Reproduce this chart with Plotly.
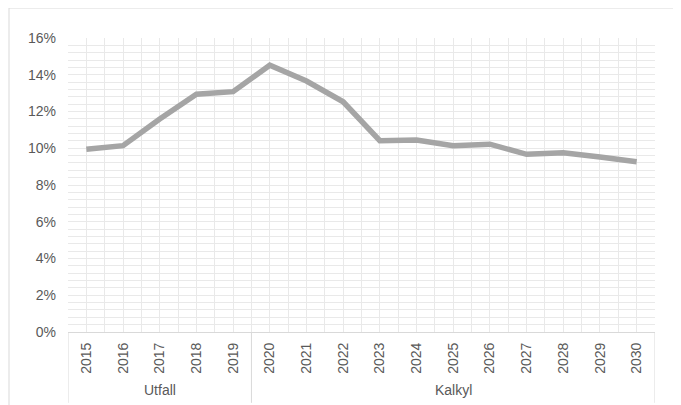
import plotly.graph_objects as go

years = ["2015", "2016", "2017", "2018", "2019", "2020", "2021", "2022",
         "2023", "2024", "2025", "2026", "2027", "2028", "2029", "2030"]
values = [0.0994, 0.1014, 0.1159, 0.1294, 0.1308, 0.1452, 0.1366, 0.1253,
          0.1041, 0.1045, 0.1014, 0.1022, 0.0967, 0.0976, 0.0952, 0.0927]
groups = ["Utfall", "Kalkyl"]
group_sizes = [5, 11]
y_ticks = [0, 0.02, 0.04, 0.06, 0.08, 0.10, 0.12, 0.14, 0.16]

FONT = "Liberation Sans, Arial, sans-serif"
TXT = "#595959"
GRID = "#e9e9e9"
AX = "#d9d9d9"

xs = list(range(len(years)))

fig = go.Figure()
fig.add_trace(go.Scatter(
    x=xs, y=values, mode="lines",
    line=dict(color="#a5a5a5", width=5.5),
    hoverinfo="skip", showlegend=False,
))

boundaries = [i - 0.5 for i in range(len(years) + 1)]

fig.update_xaxes(
    range=[-0.5, len(years) - 0.5],
    tickmode="array", tickvals=xs, ticktext=years,
    tickangle=-90,
    tickfont=dict(family=FONT, size=14, color=TXT),
    showgrid=True, gridcolor=GRID, gridwidth=1,
    minor=dict(tickmode="array", tickvals=boundaries, showgrid=True,
               gridcolor=GRID, gridwidth=1, ticks=""),
    showline=True, linecolor=AX, linewidth=1,
    ticks="", ticklabelstandoff=4,
    zeroline=False, fixedrange=True, automargin=False,
)
fig.update_yaxes(
    range=[0, 0.16],
    tickmode="array", tickvals=y_ticks, tickformat=".0%",
    tickfont=dict(family=FONT, size=14, color=TXT),
    showgrid=True, gridcolor=GRID, gridwidth=1,
    minor=dict(dtick=0.004, tick0=0, showgrid=True, gridcolor=GRID, gridwidth=1, ticks=""),
    showline=False, zeroline=False, ticks="", ticklabelstandoff=11,
    fixedrange=True, automargin=False,
)

shapes = []
start = 0
seps = [-0.5]
annotations = []
for g, n in zip(groups, group_sizes):
    end = start + n
    seps.append(end - 0.5)
    annotations.append(dict(
        x=(start + end - 1) / 2, y=-0.197, xref="x", yref="paper",
        text=g, showarrow=False, yanchor="middle",
        font=dict(family=FONT, size=14, color=TXT),
    ))
    start = end
for s in seps:
    shapes.append(dict(type="line", xref="x", yref="paper", x0=s, x1=s,
                       y0=0, y1=-0.241, line=dict(color=AX, width=1)))
# outer chart border
shapes.append(dict(type="rect", xref="paper", yref="paper",
                   x0=-0.1005, x1=1.2, y0=-0.4, y1=1.102,
                   line=dict(color=AX, width=1), layer="below"))

# page body has an 8px default margin; size the figure to fill the window
fig.update_layout(
    width=673, height=397,
    margin=dict(l=60, r=26, t=30, b=73),
    paper_bgcolor="white", plot_bgcolor="white",
    shapes=shapes, annotations=annotations,
    showlegend=False,
)

fig.write_html("out.html")
